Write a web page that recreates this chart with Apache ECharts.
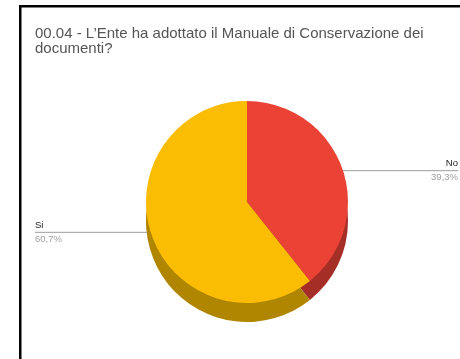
<!DOCTYPE html>
<html>
<head>
<meta charset="utf-8">
<script src="https://cdn.jsdelivr.net/npm/echarts@6/dist/echarts.min.js"></script>
<style>html,body{margin:0;padding:0;background:#fff}#c{width:460px;height:359px}</style>
</head>
<body>
<div id="c"></div>
<script>
var titleText = "00.04 - L\u2019Ente ha adottato il Manuale di Conservazione dei\ndocumenti?";
var categories = ["No", "Si"];
var values = [39.3, 60.7];
var topColors = ["#EA4335", "#FBBC04"];
var sideColors = ["#A52E27", "#B08600"];

var chart = echarts.init(document.getElementById('c'), null, {renderer: 'canvas'});

function fmtPct(p) { return p.toFixed(1).replace('.', ','); }

var topData = categories.map(function (c, i) {
  return {name: c, value: values[i], itemStyle: {color: topColors[i]}};
});
var sideData = categories.map(function (c, i) {
  return {name: c, value: values[i], itemStyle: {color: sideColors[i]}};
});

var FONT = '"Liberation Sans", Arial, sans-serif';

chart.setOption({
  animation: false,
  backgroundColor: '#fff',
  title: {
    text: titleText,
    left: 30, top: 21,
    textStyle: {fontFamily: FONT, fontSize: 15, fontWeight: 'normal', color: '#555', lineHeight: 15}
  },
  graphic: [
    {type: 'rect', shape: {x: 19, y: 5, width: 441, height: 2.5}, style: {fill: '#000'}, silent: true},
    {type: 'rect', shape: {x: 19, y: 5, width: 2.5, height: 354}, style: {fill: '#000'}, silent: true}
  ],
  series: [
    {
      type: 'pie', silent: true, startAngle: 90, clockwise: true,
      center: [247, 221], radius: 101,
      label: {show: false}, labelLine: {show: false},
      data: sideData
    },
    {
      type: 'pie', silent: true, startAngle: 90, clockwise: true,
      center: [247, 202], radius: 101,
      data: topData,
      label: {
        show: true, position: 'outer',
        formatter: function (p) { return '{n|' + p.name + '}\n{p|' + fmtPct(p.percent) + '%}'; },
        rich: {
          n: {fontFamily: FONT, fontSize: 9.5, color: '#222', lineHeight: 14},
          p: {fontFamily: FONT, fontSize: 9.5, color: '#9e9e9e', lineHeight: 14}
        }
      },
      labelLine: {show: true, length: 10, length2: 10, lineStyle: {color: '#9e9e9e', width: 1}},
      labelLayout: function (params) {
        var pts = params.labelLinePoints;
        if (!pts) return {};
        var p0 = pts[0];
        var right = p0[0] > 247;
        var ex = right ? 458 : 35;
        var y = p0[1] + (right ? 2 : -3);
        return {
          x: ex, y: y, align: right ? 'right' : 'left', verticalAlign: 'middle',
          labelLinePoints: [[p0[0] + (right ? -4 : 4), y], [ex, y]]
        };
      }
    }
  ]
});
</script>
</body>
</html>
